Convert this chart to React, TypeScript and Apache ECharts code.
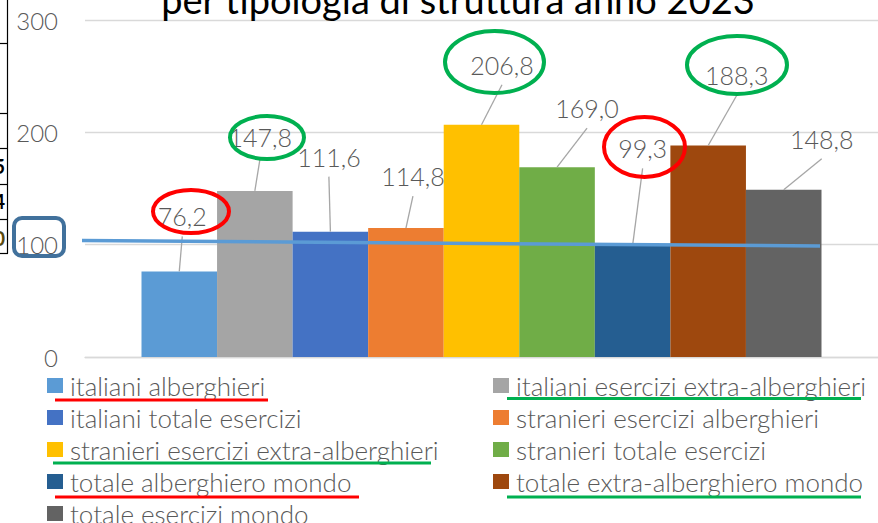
import React, { useEffect, useRef } from "react";
import * as echarts from "echarts";

const categories = [""];
const seriesNames = [
  "italiani alberghieri",
  "italiani esercizi extra-alberghieri",
  "italiani totale esercizi",
  "stranieri esercizi alberghieri",
  "stranieri esercizi extra-alberghieri",
  "stranieri totale esercizi",
  "totale alberghiero mondo",
  "totale extra-alberghiero mondo",
  "totale esercizi mondo",
];
const seriesValues = [76.2, 147.8, 111.6, 114.8, 206.8, 169.0, 99.3, 188.3, 148.8];
const yTicks = [0, 100, 200, 300];
const titleText = "per tipologia di struttura anno 2023";

const colors = ["#5B9BD5", "#A5A5A5", "#4472C4", "#ED7D31", "#FFC000", "#70AD47", "#255E91", "#9E480E", "#636363"];
// label centre offsets relative to the bar's top-centre (style only)
const labelOffsets = [
  [3, -55],
  [5.5, -54],
  [-1.5, -75],
  [7, -52],
  [20.5, -60],
  [30, -59],
  [10, -97],
  [28.5, -70],
  [38, -51],
];

const FONT = "Lato, 'Open Sans', sans-serif";
const RED = "#FF0000";
const GREEN = "#00B050";

export default function App() {
  const ref = useRef<HTMLDivElement>(null);
  useEffect(() => {
    document.body.style.margin = "0";
    const chart = echarts.init(ref.current!, null, { renderer: "svg" });
    const series = seriesNames.map((name, i) => ({
      name,
      type: "bar",
      data: [seriesValues[i]],
      barGap: "0%",
      barCategoryGap: "14.25%",
      itemStyle: { color: colors[i] },
      label: {
        show: true,
        position: "top",
        fontSize: 25,
        fontFamily: FONT,
        fontWeight: 300,
        color: "#595959",
        formatter: (p: any) => Number(p.value).toFixed(1).replace(".", ","),
      },
      labelLayout: (p: any) => ({
        x: p.rect.x + p.rect.width / 2 + labelOffsets[i][0],
        y: p.rect.y + labelOffsets[i][1],
        align: "center",
        verticalAlign: "middle",
      }),
    }));
    const legendText = { fontSize: 26, fontFamily: FONT, fontWeight: 300, color: "#595959", padding: [0, 0, 0, 2] };
    const legendCommon = {
      orient: "vertical",
      top: 372.5,
      height: 170,
      padding: 0,
      itemWidth: 16,
      itemHeight: 15,
      itemGap: 6,
      icon: "rect",
      selectedMode: false,
      textStyle: legendText,
    };
    chart.setOption({
      animation: false,
      grid: { left: 85, top: 20, width: 800, height: 337 },
      xAxis: {
        type: "category",
        data: categories,
        axisLine: { lineStyle: { color: "#D9D9D9", width: 1.3 } },
        axisTick: { show: false },
        axisLabel: { show: false },
      },
      yAxis: {
        type: "value",
        min: yTicks[0],
        max: yTicks[yTicks.length - 1],
        interval: 100,
        axisLine: { show: false },
        axisTick: { show: false },
        splitLine: { lineStyle: { color: "#D9D9D9", width: 1.3 } },
        axisLabel: { fontSize: 24, fontFamily: FONT, fontWeight: 300, color: "#595959", margin: 27 },
      },
      legend: [
        { ...legendCommon, left: 47, data: [seriesNames[0], seriesNames[2], seriesNames[4], seriesNames[6], seriesNames[8]] },
        { ...legendCommon, left: 493, data: [seriesNames[1], seriesNames[3], seriesNames[5], seriesNames[7]] },
      ],
      series,
    });

    // leader lines: from just below each label to the top-centre of its bar
    const leaders: any[] = [];
    try {
      const model = (chart as any).getModel();
      seriesNames.forEach((_, i) => {
        const lay = model.getSeriesByIndex(i).getData().getItemLayout(0);
        const cx = lay.x + lay.width / 2;
        const top = Math.min(lay.y, lay.y + lay.height);
        const lx = cx + labelOffsets[i][0];
        const ly = top + labelOffsets[i][1];
        leaders.push({
          type: "line",
          z: 50,
          shape: { x1: lx, y1: ly + 20, x2: cx, y2: top },
          style: { stroke: "#A6A6A6", lineWidth: 1.3 },
        });
      });
    } catch (e) {
      /* ignore */
    }

    const hl = (x1: number, x2: number, y: number, c: string) => ({
      type: "line",
      z: 100,
      shape: { x1, y1: y, x2, y2: y },
      style: { stroke: c, lineWidth: 3 },
    });
    const ell = (cx: number, cy: number, rx: number, ry: number, c: string) => ({
      type: "ellipse",
      z: 100,
      shape: { cx, cy, rx, ry },
      style: { fill: "none", stroke: c, lineWidth: 4 },
    });
    const tableLines = [43, 113, 148, 184, 219, 253].map((y) => ({
      type: "line",
      z: 100,
      shape: { x1: 0, y1: y + 0.5, x2: 8, y2: y + 0.5 },
      style: { stroke: "#000", lineWidth: 1.2 },
    }));
    const tableChars = [
      ["5", 166],
      ["4", 201],
      ["0", 238],
    ].map(([t, y]) => ({
      type: "text",
      z: 100,
      x: 5,
      y: y as number,
      style: { text: t as string, fontSize: 20, fontFamily: FONT, fontWeight: "bold", fill: t === "0" ? "#5A4A10" : "#000", align: "right", verticalAlign: "middle" },
    }));

    chart.setOption({
      graphic: [
        {
          type: "text",
          z: 100,
          x: 458,
          y: -1,
          style: { text: titleText, fontSize: 38, fontFamily: FONT, fill: "#000", align: "center", verticalAlign: "middle" },
        },
        {
          type: "line",
          z: 100,
          shape: { x1: 7.5, y1: 0, x2: 7.5, y2: 253.5 },
          style: { stroke: "#000", lineWidth: 1.2 },
        },
        ...tableLines,
        ...tableChars,
        ...leaders,
        {
          type: "line",
          z: 100,
          shape: { x1: 82, y1: 240.5, x2: 820, y2: 246 },
          style: { stroke: "#5B9BD5", lineWidth: 3.5 },
        },
        {
          type: "rect",
          z: 100,
          shape: { x: 14, y: 218, width: 50, height: 38, r: 8 },
          style: { fill: "none", stroke: "#41719C", lineWidth: 4 },
        },
        ell(191, 211.5, 38, 21.5, RED),
        ell(267, 137.5, 37, 21.5, GREEN),
        ell(494.5, 62, 49.5, 31, GREEN),
        ell(644.5, 147, 40.5, 30, RED),
        ell(737, 65, 50, 29, GREEN),
        hl(55, 268, 400, RED),
        hl(507, 861, 398.5, GREEN),
        hl(53, 431, 463, GREEN),
        hl(55, 359, 497, RED),
        hl(507, 861, 497, GREEN),
      ],
    });
    return () => chart.dispose();
  }, []);
  return <div ref={ref} style={{ width: 878, height: 523 }} />;
}
